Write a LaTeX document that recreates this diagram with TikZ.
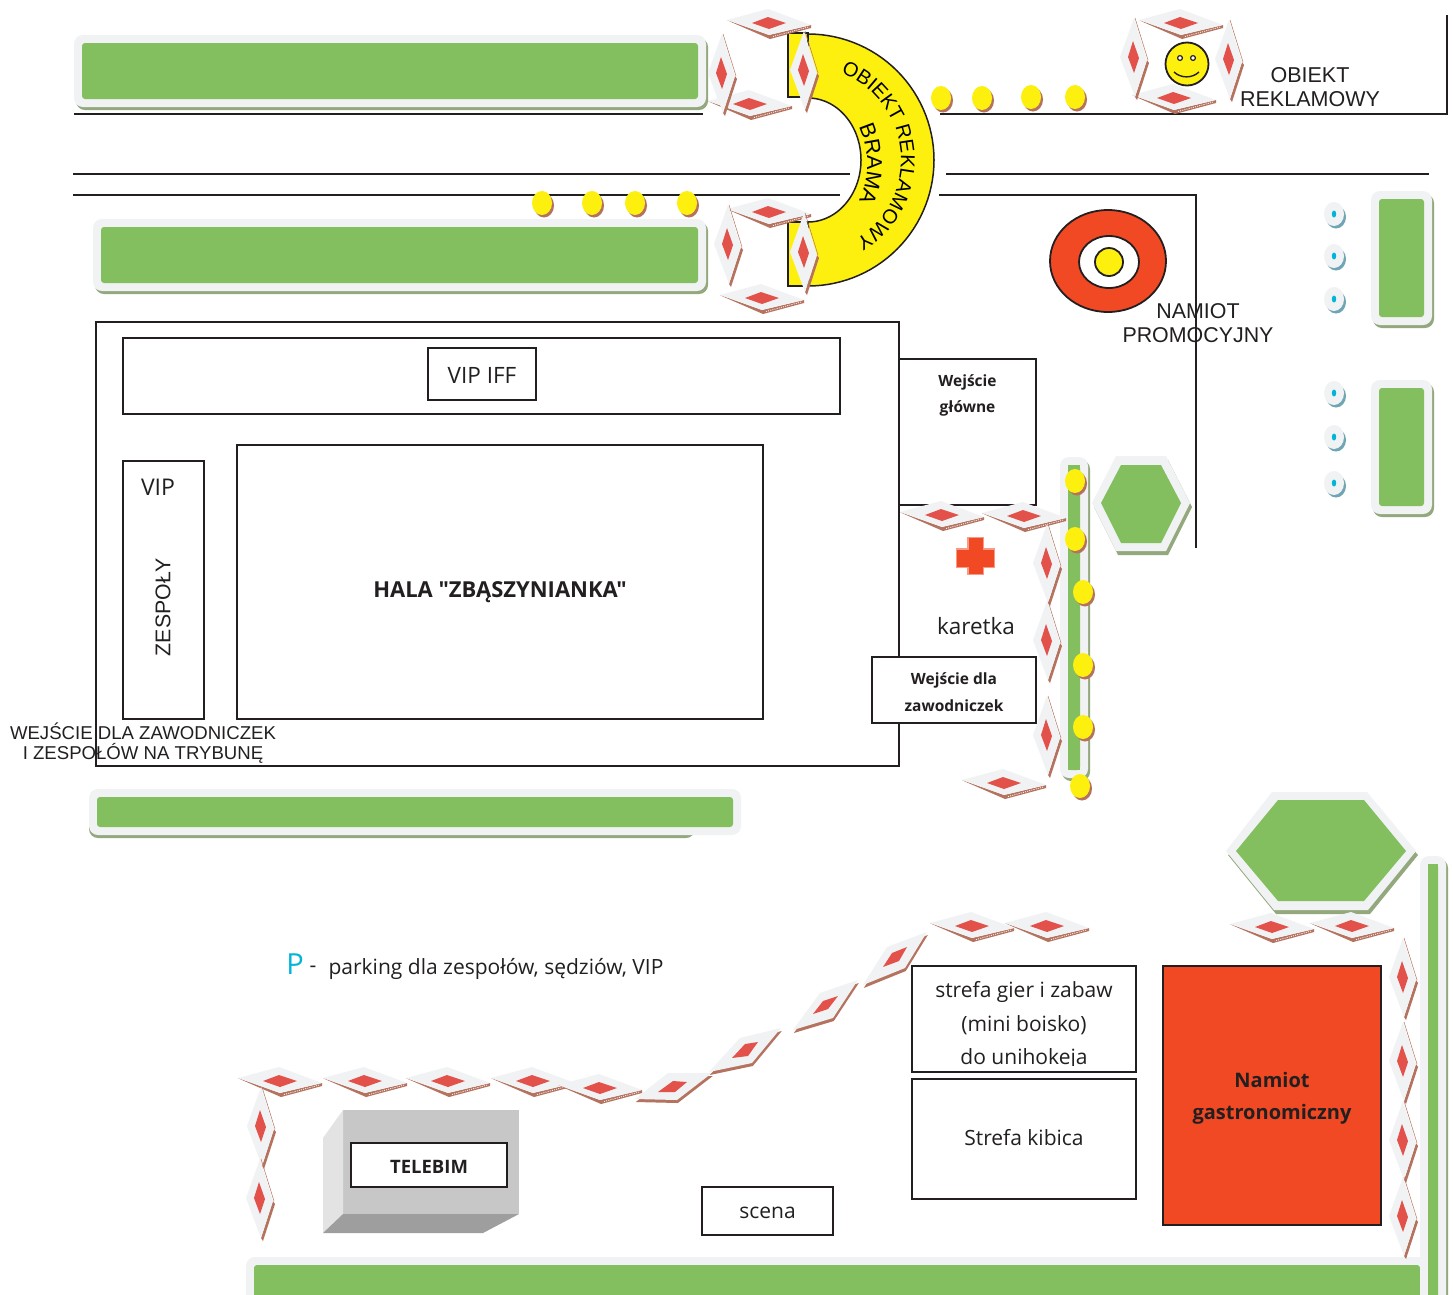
\documentclass[tikz,border=0pt]{standalone}
\usepackage{fontspec}
\setmainfont{Open Sans}[Ligatures=TeXOff]
\newfontfamily\arialf{Liberation Sans}
\usetikzlibrary{decorations.text}
\definecolor{ink}{HTML}{231F20}
\definecolor{grn}{HTML}{84BF5F}
\definecolor{pale}{HTML}{F1F2F4}
\definecolor{grnsh}{HTML}{93A87C}
\definecolor{brn}{HTML}{B5735F}
\definecolor{redd}{HTML}{E2524A}
\definecolor{yel}{HTML}{FDF00F}
\definecolor{org}{HTML}{F04923}
\definecolor{tealsh}{HTML}{6FA5B5}
\definecolor{cyn}{HTML}{00B5D8}
\tikzset{
  ln/.style={draw=ink,line width=1.8pt},
  bx/.style={draw=ink,line width=1.8pt,fill=white,outer sep=0pt},
  sans/.style={font=\arialf\fontsize{#1}{#1}\selectfont,text=ink,inner sep=0pt},
  open/.style={font=\fontsize{#1}{#1}\selectfont,text=ink,inner sep=0pt},
  openb/.style={font=\bfseries\fontsize{#1}{#1}\selectfont,text=ink,inner sep=0pt}
}
\newcommand\hd[2]{\begin{scope}[shift={(#1,#2)}]
  \fill[brn] (-38,-1) -- (1,16) -- (42,5) -- (42,2) -- (0,12) -- (-42,-3) -- cycle;
  \fill[pale] (-42,-3) -- (-1,-14) -- (42,2) -- (0,12) -- cycle;
  \draw[white,line width=.8pt,dash pattern=on 1pt off 1.2pt] (4,13.5) -- (40,3.8);
  \fill[redd] (-17,0) -- (-1,-6) -- (17,0) -- (0,6) -- cycle;
\end{scope}}
\newcommand\vd[2]{\begin{scope}[shift={(#1,#2)}]
  \fill[brn] (14,3) -- (16,6) -- (4,43) -- (2,40) -- cycle;
  \draw[brn,line width=.5pt] (2,-39) -- (15,3);
  \fill[pale] (1,-39) -- (-13,0) -- (2,40) -- (14,3) -- cycle;
  \fill[redd] (0,-16) -- (-5,0) -- (1,16) -- (6,1) -- cycle;
\end{scope}}
\newcommand\sd[8]{%
  \fill[brn,shift={(.8,3)}] (#1) -- (#2) -- (#3) -- (#4) -- cycle;
  \fill[pale] (#1) -- (#2) -- (#3) -- (#4) -- cycle;
  \fill[redd] (#5) -- (#6) -- (#7) -- (#8) -- cycle;}
\newcommand\ydot[2]{%
  \fill[brn] (#1+2,#2+2.5) ellipse [x radius=10,y radius=12];
  \fill[yel] (#1,#2) ellipse [x radius=10,y radius=12];}
\newcommand\bdot[2]{%
  \fill[tealsh] (#1+2,#2+3) ellipse [x radius=10,y radius=11.5];
  \fill[pale] (#1,#2) ellipse [x radius=10,y radius=12];
  \fill[cyn] (#1,#2) ellipse [x radius=2.2,y radius=3.5];}
\newcommand\grect[4]{%
  \fill[grnsh,rounded corners=9] (#1-8+2,#2-8+3) rectangle (#3+8+2,#4+8+3);
  \fill[pale,rounded corners=9] (#1-8,#2-8) rectangle (#3+8,#4+8);
  \fill[grn,rounded corners=3] (#1,#2) rectangle (#3,#4);}
\begin{document}
\begin{tikzpicture}[x=1pt,y=-1pt]
\useasboundingbox (0,0) rectangle (1453,1294);
\fill[white] (0,0) rectangle (1453,1294);

% road lines
\coordinate (r1a) at (74,114); \coordinate (r1b) at (703,114);
\draw[ln] (r1a) -- (r1b);
\coordinate (r2a) at (940,114); \coordinate (r2b) at (1447,114); \coordinate (r2c) at (1447,15);
\draw[ln] (r2a) -- (r2b) -- (r2c);
\coordinate (r3a) at (73,174); \coordinate (r3b) at (850,174);
\draw[ln] (r3a) -- (r3b);
\coordinate (r4a) at (946,174); \coordinate (r4b) at (1429,174);
\draw[ln] (r4a) -- (r4b);
\coordinate (r5a) at (73,195); \coordinate (r5b) at (840,195);
\draw[ln] (r5a) -- (r5b);
\coordinate (r6a) at (939,195); \coordinate (r6b) at (1196,195); \coordinate (r6c) at (1196,548);
\draw[ln] (r6a) -- (r6b) -- (r6c);

% green areas
\grect{82}{43}{698}{99}
\grect{101}{227}{698}{283}
\fill[grnsh,rounded corners=9] (89,800) rectangle (695,838);
\fill[pale,rounded corners=9] (89,789) rectangle (741,835);
\fill[grn,rounded corners=3] (97,797) rectangle (733,827);
\grect{1379}{199}{1424}{317}
\grect{1379}{388}{1424}{506}
\grect{1068}{465}{1080}{770}
\grect{254}{1265}{1420}{1300}
\grect{1428}{864}{1438}{1310}
\fill[grn] (1428,864) rectangle (1438,1294);
\fill[grn] (1068,465) rectangle (1080,770);
% hexagons
\fill[grnsh] (1094,507) -- (1118,555) -- (1168,555) -- (1192,507) -- (1168,460) -- cycle;
\fill[pale] (1092,503) -- (1116,456) -- (1166,456) -- (1190,503) -- (1166,551) -- (1116,551) -- cycle;
\fill[grn] (1101,503) -- (1121,465) -- (1161,465) -- (1181,503) -- (1161,543) -- (1121,543) -- cycle;
\fill[grnsh] (1228,855) -- (1276,914) -- (1370,914) -- (1418,855) -- (1368,800) -- cycle;
\fill[pale] (1226,851) -- (1272,792) -- (1367,792) -- (1416,851) -- (1368,910) -- (1274,910) -- cycle;
\fill[grn] (1236,851) -- (1278,800) -- (1364,800) -- (1406,851) -- (1364,901) -- (1278,901) -- cycle;

% hall
\draw[ln] (96,322) rectangle (899,766);
\node[bx,minimum width=717pt,minimum height=76pt,anchor=north west] (iffb) at (123,338) {};
\node[bx,minimum width=108pt,minimum height=52pt] (iff) at (482,374) {};
\node[open=22.5] (ifft) at (482,375) {VIP IFF};
\node[bx,minimum width=81pt,minimum height=258pt,anchor=north west] (vipb) at (123,461) {};
\node[open=23] (vip) at (158,487) {VIP};
\node[sans=21.3,rotate=90] (zesp) at (163,607) {ZESPOŁY};
\node[bx,minimum width=526pt,minimum height=274pt,anchor=north west] (hala) at (237,445) {};
\node[openb=22] (halat) at (500,592) {HALA "ZBĄSZYNIANKA"};
\node[bx,minimum width=137pt,minimum height=146pt,anchor=north west] (wg) at (899,359) {};
\node[openb=15.5] (wg1) at (967.5,382) {Wejście};
\node[openb=15.5] (wg2) at (967.5,408) {główne};
\node[open=22.5] (kar) at (976,626) {karetka};
\node[bx,minimum width=164pt,minimum height=66pt,anchor=north west] (wz) at (872,657) {};
\node[openb=15.5] (wz1) at (954,680) {Wejście dla};
\node[openb=15.5] (wz2) at (954,706) {zawodniczek};
\node[sans=18.6] (wj1) at (143,731) {WEJŚCIE DLA ZAWODNICZEK};
\node[sans=18.6] (wj2) at (143,753) {I ZESPOŁÓW NA TRYBUNĘ};

% gate
\draw[ln,line width=1.5pt,fill=yel] (808,33) -- (788,33) -- (788,97) -- (808,97) -- cycle;
\draw[ln,line width=1.5pt,fill=yel] (808,222) -- (788,222) -- (788,286) -- (808,286) -- cycle;
\draw[ln,line width=1.5pt,fill=yel] plot[domain=-90:90,samples=61] ({808+126*cos(\x)},{160+126*sin(\x)}) -- plot[domain=90:-90,samples=61] ({808+53*cos(\x)},{160+62*sin(\x)}) -- cycle;
\path[decorate,decoration={text along path,text align=center,text={|\arialf\fontsize{20}{20}\selectfont|OBIEKT REKLAMOWY}}] plot[domain=-72:62,samples=40] ({808+93*cos(\x)},{160+93*sin(\x)});
\path[decorate,decoration={text along path,text align=center,text={|\arialf\fontsize{21.5}{21.5}\selectfont|BRAMA}}] plot[domain=-40:40,samples=40] ({808+59*cos(\x)},{164+72*sin(\x)});

% target
\draw[ln,fill=org] (1108,261) ellipse [x radius=58,y radius=51];
\draw[ln,fill=white] (1109,262) ellipse [x radius=30,y radius=26];
\draw[ln,fill=yel] (1109,262) ellipse [x radius=14,y radius=14];
\node[sans=21.4] (nm1) at (1198,311) {NAMIOT};
\node[sans=21.4] (nm2) at (1198,335) {PROMOCYJNY};

% smiley
\draw[ln,fill=yel] (1187,64) circle (21.5);
\draw[ln,line width=1.2pt,fill=white] (1180,58) circle (2.4);
\draw[ln,line width=1.2pt,fill=white] (1193,58) circle (2.4);
\draw[ln,line width=1.4pt] (1174,72) .. controls (1181,78.5) and (1192,78.5) .. (1199,72);
\node[sans=21.5] (ob1) at (1310,75) {OBIEKT};
\node[sans=21.5] (ob2) at (1310,99) {REKLAMOWY};

% barrier
\foreach \a/\b in {769/23,750/104,769/212,762/298,1181/23,1174/98,942/515,1024/516,1004/783,280/1081,365/1081,448/1081,533/1081,600/1088,972/926,1047/926,1272/927,1352/926}{\hd{\a}{\b}}
\foreach \a/\b in {721/73,803/70,727/244,803/252,1133/57,1228/59,1046/563,1046/640,1046/735,260/1126,259/1198,1402/977,1402/1061,1402/1140,1402/1216}{\vd{\a}{\b}}
\sd{635,1099}{668,1073}{712,1073}{677,1100}{658,1092}{673,1081}{687,1082}{675,1092}
\sd{709,1072}{740,1038}{781,1028}{752,1063}{732,1058}{745,1044}{758,1042}{748,1056}
\sd{793,1030}{820,993}{858,980}{833,1018}{813,1014}{823,1001}{838,996}{828,1009}
\sd{863,985}{887,947}{927,932}{905,968}{883,967}{892,953}{907,947}{899,961}

% dots
\foreach \a/\b in {941/98,982/98,1031/97,1075/97,542/203,592/203,635/203,687/203,1075/481,1075/539,1083/592,1083/665,1083/727,1080/786}{\ydot{\a}{\b}}
\foreach \a/\b in {1334/214,1334/256,1334/299,1334/393,1334/437,1334/483}{\bdot{\a}{\b}}

% cross
\fill[org!55] (967,537) rectangle (984,575);
\fill[org!55] (956,548) rectangle (995,568);
\fill[org] (968.5,538) rectangle (982.5,574);
\fill[org] (957,549.5) rectangle (994,566.5);

% legend
\node[open=29,text=cyn] (pp) at (295,964) {P};
\node[open=21] (pd) at (313,969) {-};
\node[open=21] (pt) at (496,969) {parking dla zespołów, sędziów, VIP};

% lower zone boxes
\node[bx,minimum width=224pt,minimum height=106pt,anchor=north west] (sg) at (912,966) {};
\node[open=21] (sg1) at (1024,992) {strefa gier i zabaw};
\node[open=21] (sg2) at (1024,1025) {(mini boisko)};
\begin{scope}
\clip (905,1040) rectangle (1145,1065);
\node[open=21] (sg3) at (1024,1059) {do unihokeja};
\end{scope}
\node[bx,minimum width=224pt,minimum height=120pt,anchor=north west] (sk) at (912,1079) {};
\node[open=21] (skt) at (1024,1138) {Strefa kibica};
\node[bx,minimum width=131pt,minimum height=48pt] (sc) at (767.5,1211) {};
\node[open=21] (sct) at (767.5,1213) {scena};
\node[bx,fill=org,minimum width=218pt,minimum height=259pt,anchor=north west] (ng) at (1163,966) {};
\node[openb=20] (ng1) at (1272,1080) {Namiot};
\node[openb=20] (ng2) at (1272,1114) {gastronomiczny};

% telebim
\fill[black!22] (343,1110) rectangle (519,1214);
\fill[black!11] (343,1110) -- (343,1214) -- (323,1233) -- (323,1138) -- cycle;
\fill[black!38] (343,1214) -- (519,1214) -- (483,1233) -- (323,1233) -- cycle;
\node[bx,minimum width=156pt,minimum height=44pt] (tb) at (429,1165) {};
\node[openb=18.5] (tbt) at (429,1167) {TELEBIM};
\end{tikzpicture}
\end{document}
